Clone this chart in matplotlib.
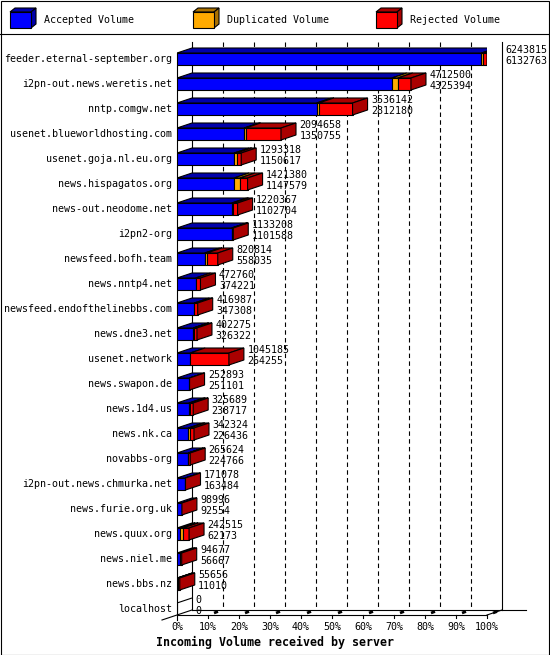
import matplotlib
matplotlib.use("Agg")
import matplotlib.pyplot as plt
from matplotlib.patches import Polygon, Rectangle

# datos
hosts = ["feeder.eternal-september.org", "i2pn-out.news.weretis.net", "nntp.comgw.net",
         "usenet.blueworldhosting.com", "usenet.goja.nl.eu.org", "news.hispagatos.org",
         "news-out.neodome.net", "i2pn2-org", "newsfeed.bofh.team", "news.nntp4.net",
         "newsfeed.endofthelinebbs.com", "news.dne3.net", "usenet.network", "news.swapon.de",
         "news.1d4.us", "news.nk.ca", "novabbs-org", "i2pn-out.news.chmurka.net",
         "news.furie.org.uk", "news.quux.org", "news.niel.me", "news.bbs.nz", "localhost"]
total = [6243815, 4712500, 3536142, 2094658, 1293318, 1421380, 1220367, 1133208, 820814,
         472760, 416987, 402275, 1045185, 252893, 325689, 342324, 265624, 171078, 98996,
         242515, 94677, 55656, 0]
accepted = [6132763, 4325394, 2812180, 1350755, 1150617, 1147579, 1102704, 1101588, 558035,
            374221, 347308, 326322, 264255, 251101, 238717, 226436, 224766, 163484, 92554,
            62173, 56667, 11010, 0]
duplicated = [30000, 120000, 45000, 30000, 50000, 120000, 35000, 5000, 45000,
              0, 0, 10000, 0, 0, 30000, 30000, 5000, 0, 0,
              60000, 0, 0, 0]
rejected = [t - a - d for t, a, d in zip(total, accepted, duplicated)]

series = ["Accepted Volume", "Duplicated Volume", "Rejected Volume"]
front = ["#0000ff", "#ffaa00", "#ff0000"]
dark = ["#0000aa", "#aa7100", "#aa0000"]
pct_labels = ["%d%%" % (10 * k) for k in range(11)]

W, H = 550, 655
fig = plt.figure(figsize=(W / 100, H / 100), dpi=100)
plt.rcParams["font.family"] = "DejaVu Sans Mono"
FS = 7.2

# area frontal del grafico (px)
left, right, top, bottom = 177, 487, 47, 615
n = len(hosts)
ax = fig.add_axes([left / W, 1 - bottom / H, (right - left) / W, (bottom - top) / H])
xmax = max(total)
rowpx = 25.0
ax.set_xlim(0, xmax)
ax.set_ylim(n - 1 + 6 / rowpx, -12 / rowpx)
ax.axis("off")

px = xmax / (right - left)       # unidades por pixel en x
py = 1 / rowpx                   # unidades por pixel en y
dx, dy = 15 * px, -5 * py        # profundidad 3D
bh = 12 * py
y0, y1 = ax.get_ylim()[1], ax.get_ylim()[0]   # arriba, abajo
lw = 0.8

# pared del fondo y rejilla
for k in range(11):
    xb = k * xmax / 10 + dx
    ls = "-" if k in (0, 10) else (0, (4, 3))
    ax.plot([xb, xb], [y0 + dy, y1 + dy], color="black", lw=lw, ls=ls, clip_on=False, zorder=1)
# suelo
ax.plot([dx, xmax + dx + 24 * px], [y1 + dy, y1 + dy], color="black", lw=lw, clip_on=False, zorder=1)
ax.plot([0, xmax], [y1, y1], color="black", lw=lw, clip_on=False, zorder=1)
ax.plot([-dx, dx], [y1 - dy, y1 + dy], color="black", lw=lw, clip_on=False, zorder=1)
ax.plot([xmax, xmax + dx], [y1, y1 + dy], color="black", lw=lw, clip_on=False, zorder=1)
ax.plot([0, 0], [y0 + 6 * py, y1 + 5 * py], color="black", lw=lw, clip_on=False, zorder=1)
for k in range(11):
    xf = k * xmax / 10
    if k > 0:
        ax.plot([xf, xf], [y1 - 0.5 * py, y1 + 3 * py], color="black", lw=lw, clip_on=False, zorder=1)
        ax.plot([xf + 6 * px, xf + 10 * px], [y1 - 2 * py, y1 - 3.5 * py], color="black",
                lw=2, clip_on=False, zorder=1, solid_capstyle="butt")
    ax.text(xf, y1 + 12 * py, pct_labels[k], ha="center", va="center", fontsize=FS)

# barras
for i in range(n):
    c = i
    segs = [accepted[i], duplicated[i], rejected[i]]
    x = 0
    last = 2
    for j, v in enumerate(segs):
        if v <= 0 and total[i] > 0:
            continue
        ax.barh(c, v, left=x, height=bh, color=front[j], edgecolor="black", lw=lw, zorder=3)
        ty = c - bh / 2
        ax.add_patch(Polygon([(x, ty), (x + v, ty), (x + v + dx, ty + dy), (x + dx, ty + dy)],
                             closed=True, facecolor=dark[j], edgecolor="black", lw=lw, zorder=3))
        x += v
        last = j
        if total[i] == 0:
            break
    if total[i] > 0:
        t = total[i]
        ax.add_patch(Polygon([(t, c - bh / 2), (t, c + bh / 2), (t + dx, c + bh / 2 + dy),
                              (t + dx, c - bh / 2 + dy)], closed=True, facecolor=dark[last],
                             edgecolor="black", lw=lw, zorder=3))
    ax.text(-5 * px, c, hosts[i], ha="right", va="center", fontsize=FS)
    ax.text(total[i] + dx + 3.5 * px, c - 9 * py, str(total[i]), ha="left", va="center", fontsize=FS, zorder=4)
    ax.text(total[i] + dx + 3.5 * px, c + 2 * py, str(accepted[i]), ha="left", va="center", fontsize=FS, zorder=4)

# leyenda
lg = fig.add_axes([0, 1 - 34 / H, 1, 34 / H])
lg.set_xlim(0, W)
lg.set_ylim(34, 0)
lg.axis("off")
for j, x0 in enumerate([10, 193, 376]):
    lg.add_patch(Polygon([(x0, 12), (x0 + 5, 8), (x0 + 26, 8), (x0 + 21, 12)], closed=True,
                         facecolor=dark[j], edgecolor="black", lw=lw))
    lg.add_patch(Polygon([(x0 + 21, 12), (x0 + 26, 8), (x0 + 26, 24), (x0 + 21, 28)], closed=True,
                         facecolor=dark[j], edgecolor="black", lw=lw))
    lg.add_patch(Rectangle((x0, 12), 21, 16, facecolor=front[j], edgecolor="black", lw=lw))
    lg.text(x0 + 34, 20, series[j], ha="left", va="center", fontsize=FS)

fig.add_artist(plt.Line2D([0, 1], [1 - 33.5 / H, 1 - 33.5 / H], color="black", lw=lw))
fig.add_artist(Rectangle((0.5 / W, 0.5 / H), 1 - 1.5 / W, 1 - 1.5 / H, fill=False,
                         edgecolor="black", lw=lw, transform=fig.transFigure))
fig.text(0.5, 1 - 642 / H, "Incoming Volume received by server", ha="center", va="center",
         fontsize=8.4, fontweight="bold")

fig.savefig("out.png", dpi=100, facecolor="white")
